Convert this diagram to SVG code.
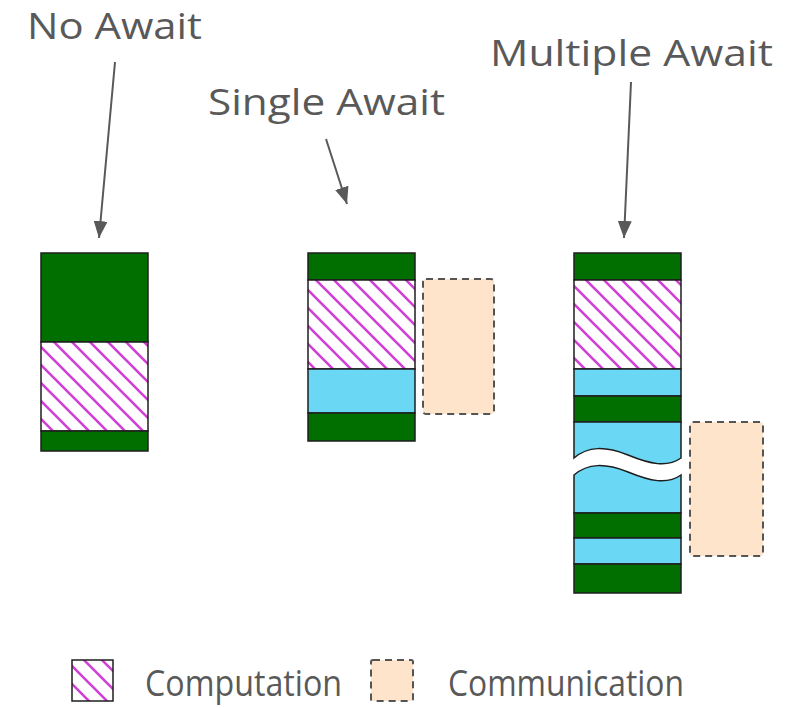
<svg xmlns="http://www.w3.org/2000/svg" width="803" height="708" viewBox="0 0 803 708">
<defs>
<pattern id="hatch" patternUnits="userSpaceOnUse" width="18" height="18">
<rect width="18" height="18" fill="#ffffff"/>
<path d="M0,0 L18,18 M-3,15 L3,21 M15,-3 L21,3" stroke="#d03fd6" stroke-width="2.6"/>
</pattern>
<marker id="ah" markerUnits="userSpaceOnUse" markerWidth="18" markerHeight="14" refX="17" refY="7" orient="auto">
<path d="M0,0 L17,7 L0,14 Z" fill="#595959"/>
</marker>
<style>
.lbl{font-family:"Open Sans","Liberation Sans",sans-serif;font-size:37px;fill:#595959}
.g{fill:#006f00;stroke:#1e1e1e;stroke-width:1.5}
.h{fill:url(#hatch);stroke:#1e1e1e;stroke-width:1.5}
.c{fill:#6ad8f5;stroke:#1e1e1e;stroke-width:1.5}
.d{fill:#fde4cb;stroke:#555555;stroke-width:2;stroke-dasharray:7,5}
.arr{stroke:#595959;stroke-width:2;fill:none;marker-end:url(#ah)}
</style>
</defs>
<rect width="803" height="708" fill="#ffffff"/>

<g id="label-no-await"><text class="lbl" x="27" y="39" textLength="175" lengthAdjust="spacingAndGlyphs">No Await</text></g>
<g id="label-single-await"><text class="lbl" x="208" y="115" textLength="237" lengthAdjust="spacingAndGlyphs">Single Await</text></g>
<g id="label-multiple-await"><text class="lbl" x="490" y="66" textLength="283" lengthAdjust="spacingAndGlyphs">Multiple Await</text></g>

<g id="connectors">
<line class="arr" x1="115" y1="62" x2="99" y2="238"/>
<line class="arr" x1="326" y1="139" x2="347" y2="204"/>
<line class="arr" x1="631" y1="82" x2="624" y2="238"/>
</g>

<g id="no-await">
<rect class="g" x="41" y="253" width="107" height="89"/>
<rect class="h" x="41" y="342" width="107" height="89"/>
<rect class="g" x="41" y="431" width="107" height="20"/>
</g>

<g id="single-await">
<rect class="g" x="308" y="253" width="107" height="27"/>
<rect class="h" x="308" y="280" width="107" height="89"/>
<rect class="c" x="308" y="369" width="107" height="44"/>
<rect class="g" x="308" y="413" width="107" height="28"/>
<rect class="d" x="423" y="279" width="71" height="135" rx="3"/>
</g>

<g id="multiple-await">
<rect class="g" x="574" y="253" width="107" height="27"/>
<rect class="h" x="574" y="280" width="107" height="89"/>
<rect class="c" x="574" y="369" width="107" height="27"/>
<rect class="g" x="574" y="396" width="107" height="26"/>
<path class="c" d="M574,422 H681 V458 C667,468 650,464 628,455 C605,446 588,446 574,458 Z"/>
<path class="c" d="M574,475 C588,463 605,463 628,472 C650,481 667,485 681,475 V513 H574 Z"/>
<rect class="g" x="574" y="513" width="107" height="25"/>
<rect class="c" x="574" y="538" width="107" height="26"/>
<rect class="g" x="574" y="564" width="107" height="29"/>
<rect class="d" x="690" y="422" width="73" height="134" rx="3"/>
</g>

<g id="legend">
<rect class="h" x="72" y="660" width="41" height="41"/>
<text class="lbl" x="145" y="696" textLength="197" lengthAdjust="spacingAndGlyphs">Computation</text>
<rect class="d" x="371" y="660" width="42" height="41" rx="2"/>
<text class="lbl" x="448" y="696" textLength="236" lengthAdjust="spacingAndGlyphs">Communication</text>
</g>
</svg>
